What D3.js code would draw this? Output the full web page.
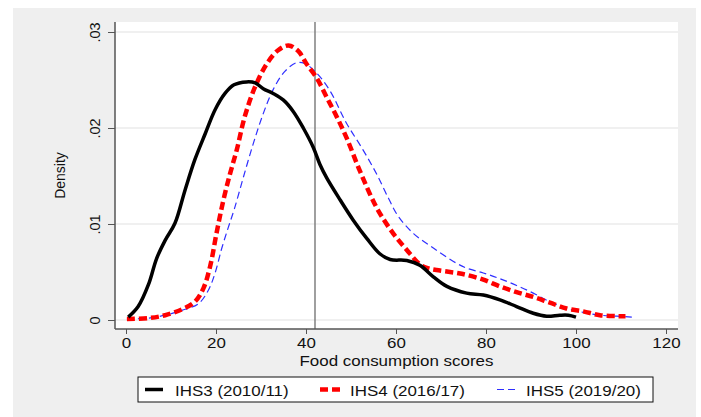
<!DOCTYPE html>
<html>
<head>
<meta charset="utf-8">
<script src="https://cdn.jsdelivr.net/npm/d3@7"></script>
<style>
  body { margin: 0; background: #fff; }
  svg text { font-family: "Liberation Sans", Arial, sans-serif; fill: #111; }
</style>
</head>
<body>
<div id="chart"></div>
<script>
// Kernel density estimates: [score, density]
var ihs3 = [[0.5,0.0003],[2.7,0.0014],[5,0.0037],[6.8,0.0064],[8.7,0.0083],[10.9,0.0101],[13.1,0.0135],
    [15.3,0.0167],[17.6,0.0194],[19.8,0.0219],[22,0.0236],[24,0.0245],[26.8,0.0248],[28.7,0.0247],
    [30.5,0.0241],[32.7,0.0236],[35,0.0229],[37.2,0.0217],[39.4,0.0200],[41.6,0.0180],[43.1,0.0162],
    [44.6,0.0148],[47.6,0.0125],[50.5,0.0104],[53.5,0.0085],[56.4,0.0069],[58.7,0.0063],[62.4,0.0062],
    [65.3,0.0057],[68.3,0.0045],[71.3,0.0035],[75.7,0.0028],[79.4,0.0026],[83.1,0.0021],[86.8,0.0014],
    [90.5,0.0007],[93.5,0.0004],[96.4,0.0005],[98.3,0.0005],[100,0.0003]];

var ihs4 = [[0.2,0.0001],[5,0.0002],[8.7,0.0005],[12.4,0.0011],[15.3,0.0019],[17.2,0.0033],[18.7,0.0056],
    [20.1,0.009],[21.6,0.0124],[23.1,0.0152],[24.6,0.0177],[26.4,0.0212],[28.7,0.0243],[31.3,0.0267],
    [33.8,0.0281],[36.1,0.0286],[38.3,0.028],[40.1,0.0267],[42.4,0.0252],[44.6,0.0232],[46.8,0.0212],
    [49,0.0190],[52,0.0155],[55.7,0.0117],[59.4,0.009],[62.4,0.0073],[65.3,0.0058],[67,0.0054],
    [69,0.0052],[73.5,0.0049],[75.7,0.0047],[79.4,0.0042],[83.1,0.0035],[86.8,0.0029],[90.5,0.0024],
    [94.2,0.0018],[97.9,0.0012],[101.6,0.0009],[105.3,0.0005],[109,0.0004],[111,0.0004]];

var ihs5 = [[0.2,0.0001],[5,0.0002],[8.7,0.0005],[12.4,0.0010],[16.1,0.0017],[18.3,0.0031],[19.8,0.0049],
    [21.3,0.0075],[22.7,0.0096],[24.1,0.0116],[26.1,0.0149],[28.3,0.0184],[30.5,0.0215],[32.7,0.024],
    [35.3,0.0259],[37.9,0.0268],[39.8,0.0267],[42.4,0.0257],[45.3,0.0239],[49,0.0205],[52.7,0.0177],
    [55.7,0.0152],[58.3,0.0127],[60.5,0.0108],[63.9,0.009],[68.3,0.0075],[73.5,0.0059],[75.7,0.0054],
    [79.4,0.0049],[83.1,0.0043],[86.8,0.0036],[90.5,0.0028],[94.2,0.0019],[97.9,0.0012],[101.6,0.0008],
    [105.3,0.0005],[109,0.0004],[112.4,0.0003]];

var xTicks = [0, 20, 40, 60, 80, 100, 120];
var yTicks = [0, 0.01, 0.02, 0.03];
var yTickLabels = ['0', '.01', '.02', '.03'];
var refLine = 42;
var seriesNames = ['IHS3 (2010/11)', 'IHS4 (2016/17)', 'IHS5 (2019/20)'];

var width = 701, height = 417;
var plot = { left: 115, right: 678, top: 22, bottom: 329 };
var stretch = 1.13;

var svg = d3.select('#chart').append('svg')
    .attr('width', width)
    .attr('height', height);

// Outer grey panel and white plot region.
svg.append('rect').attr('x', 13).attr('y', 8).attr('width', 683).attr('height', 409).attr('fill', '#efefef');
svg.append('rect')
    .attr('x', plot.left).attr('y', plot.top)
    .attr('width', plot.right - plot.left).attr('height', plot.bottom - plot.top)
    .attr('fill', '#fff');

var x = d3.scaleLinear().domain([0, 120]).range([126, 666]);
var y = d3.scaleLinear().domain([0, 0.03]).range([320, 32]);

// Gridlines.
svg.append('g').selectAll('line')
    .data(yTicks)
    .enter()
    .append('line')
    .attr('x1', plot.left).attr('x2', plot.right)
    .attr('y1', function(d) { return y(d); })
    .attr('y2', function(d) { return y(d); })
    .attr('stroke', '#ebebeb')
    .attr('stroke-width', 1.5);

// Reference line at 42.
svg.append('line')
    .attr('x1', x(refLine)).attr('x2', x(refLine))
    .attr('y1', plot.top).attr('y2', plot.bottom)
    .attr('stroke', '#777').attr('stroke-width', 1.4);

// Curves.
var line = d3.line()
    .x(function(d) { return x(d[0]); })
    .y(function(d) { return y(d[1]); })
    .curve(d3.curveCatmullRom.alpha(0.5));

var styles = [
    { data: ihs3, color: '#000', width: 3.5, dash: null },
    { data: ihs4, color: '#ff0000', width: 4.5, dash: '8,4' },
    { data: ihs5, color: '#2f2fff', width: 1.2, dash: '7,4' }
];

svg.append('g').selectAll('path')
    .data(styles.slice().reverse())
    .enter()
    .append('path')
    .attr('d', function(d) { return line(d.data); })
    .attr('fill', 'none')
    .attr('stroke', function(d) { return d.color; })
    .attr('stroke-width', function(d) { return d.width; })
    .attr('stroke-dasharray', function(d) { return d.dash; })
    .attr('stroke-linejoin', 'round');

// Axes.
var xAxis = svg.append('g')
    .attr('transform', 'translate(0,' + plot.bottom + ')')
    .call(d3.axisBottom(x).tickValues(xTicks).tickSize(5).tickPadding(3).tickSizeOuter(0));
xAxis.select('.domain').remove();
xAxis.selectAll('.tick line').attr('stroke', '#555');
xAxis.selectAll('.tick text')
    .style('font-size', '15px')
    .attr('transform', 'scale(' + stretch + ',1)');

var yAxis = svg.append('g')
    .attr('transform', 'translate(' + plot.left + ',0)')
    .call(d3.axisLeft(y).tickValues(yTicks).tickSize(7).tickFormat(function(d, i) { return yTickLabels[i]; }));
yAxis.select('.domain').remove();
yAxis.selectAll('.tick line').attr('stroke', '#555');
yAxis.selectAll('.tick text')
    .attr('x', null).attr('dy', null)
    .attr('text-anchor', 'middle')
    .style('font-size', '14.5px')
    .attr('transform', 'translate(-15,0) rotate(-90)');

svg.append('line')
    .attr('x1', plot.left).attr('x2', plot.right)
    .attr('y1', plot.bottom).attr('y2', plot.bottom)
    .attr('stroke', '#555').attr('stroke-width', 1.5);
svg.append('line')
    .attr('x1', plot.left).attr('x2', plot.left)
    .attr('y1', plot.top).attr('y2', plot.bottom)
    .attr('stroke', '#555').attr('stroke-width', 1.5);

// Axis titles.
svg.append('text')
    .attr('transform', 'translate(' + ((plot.left + plot.right) / 2) + ',366) scale(' + stretch + ',1)')
    .attr('text-anchor', 'middle')
    .style('font-size', '15px')
    .text('Food consumption scores');

svg.append('text')
    .attr('transform', 'translate(65,' + ((plot.top + plot.bottom) / 2) + ') rotate(-90)')
    .attr('text-anchor', 'middle')
    .style('font-size', '14px')
    .text('Density');

// Legend.
var legend = svg.append('g');
legend.append('rect')
    .attr('x', 138).attr('y', 377).attr('width', 515).attr('height', 25)
    .attr('fill', '#fff').attr('stroke', '#111').attr('stroke-width', 1);

var legendX = [145, 320, 497];
var legendItem = legend.selectAll('.item')
    .data(styles)
    .enter()
    .append('g')
    .attr('class', 'item')
    .attr('transform', function(d, i) { return 'translate(' + legendX[i] + ',0)'; });

legendItem.append('line')
    .attr('x1', 0).attr('x2', function(d, i) { return i === 0 ? 18 : 20; })
    .attr('y1', 389.5).attr('y2', 389.5)
    .attr('stroke', function(d) { return d.color; })
    .attr('stroke-width', function(d) { return d.width; })
    .attr('stroke-dasharray', function(d) { return d.dash; });

legendItem.append('text')
    .attr('transform', function(d, i) { return 'translate(' + (i === 2 ? 29 : 30) + ',395.5) scale(' + stretch + ',1)'; })
    .style('font-size', '15px')
    .text(function(d, i) { return seriesNames[i]; });
</script>
</body>
</html>
